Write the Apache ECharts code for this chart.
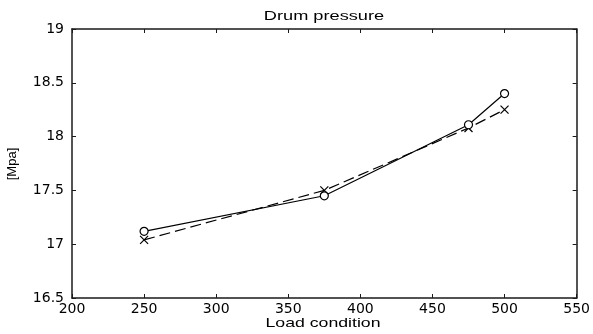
<!DOCTYPE html>
<html>
<head>
<meta charset="utf-8">
<script src="https://cdn.jsdelivr.net/npm/echarts@6/dist/echarts.min.js"></script>
<style>
html,body{margin:0;padding:0;background:#fff;}
#c{width:593px;height:334px;}
</style>
</head>
<body>
<div id="c"></div>
<script>
// Data
const loads = [250, 375, 475, 500];
const circleSeries = [17.12, 17.45, 18.11, 18.40];
const crossSeries = [17.04, 17.50, 18.08, 18.25];
const titleText = 'Drum pressure';
const xName = 'Load condition';
const yName = '[Mpa]';

const chart = echarts.init(document.getElementById('c'), null, {renderer: 'canvas'});
const axisCol = '#1a1a1a';
const tickFont = {fontFamily: 'DejaVu Sans', fontSize: 14, color: '#000'};
const lblFont = '13px "Liberation Sans", Arial, sans-serif';

function baseAxis(extra) {
  return Object.assign({
    type: 'value',
    axisLine: {show: true, onZero: false, lineStyle: {color: axisCol, width: 1.5}},
    axisTick: {show: true, inside: true, length: 4, lineStyle: {color: axisCol, width: 1}},
    splitLine: {show: false}
  }, extra);
}

chart.setOption({
  animation: false,
  backgroundColor: '#fff',
  grid: {left: 72, right: 16, top: 29, bottom: 36, containLabel: false},
  xAxis: [
    baseAxis({min: 200, max: 550, interval: 50, position: 'bottom',
      axisLabel: Object.assign({margin: 4}, tickFont)}),
    baseAxis({min: 200, max: 550, interval: 50, position: 'top',
      axisLabel: {show: false}})
  ],
  yAxis: [
    baseAxis({min: 16.5, max: 19, interval: 0.5, position: 'left',
      axisLabel: Object.assign({margin: 8}, tickFont)}),
    baseAxis({min: 16.5, max: 19, interval: 0.5, position: 'right',
      axisLabel: {show: false}})
  ],
  graphic: [
    {type: 'text', x: 324, y: 16, scaleX: 1.4,
      style: {text: titleText, font: lblFont, fill: '#000', align: 'center', verticalAlign: 'middle'}},
    {type: 'text', x: 323, y: 323, scaleX: 1.36,
      style: {text: xName, font: lblFont, fill: '#000', align: 'center', verticalAlign: 'middle'}},
    {type: 'text', x: 12, y: 164, rotation: Math.PI / 2,
      style: {text: yName, font: lblFont, fill: '#000', align: 'center', verticalAlign: 'middle'}}
  ],
  series: [
    {
      type: 'line',
      data: loads.map((x, i) => [x, circleSeries[i]]),
      symbol: 'circle', symbolSize: 8, showAllSymbol: true,
      lineStyle: {color: '#000', width: 1.2, type: 'solid'},
      itemStyle: {color: '#fff', borderColor: '#000', borderWidth: 1.2},
      z: 3
    },
    {
      type: 'line',
      data: loads.map((x, i) => [x, crossSeries[i]]),
      symbol: 'path://M0,0L10,10M10,0L0,10', symbolSize: 8, showAllSymbol: true,
      lineStyle: {color: '#000', width: 1.2, type: [11, 5]},
      itemStyle: {color: 'none', borderColor: '#000', borderWidth: 1.2},
      z: 2
    }
  ]
});
</script>
</body>
</html>
